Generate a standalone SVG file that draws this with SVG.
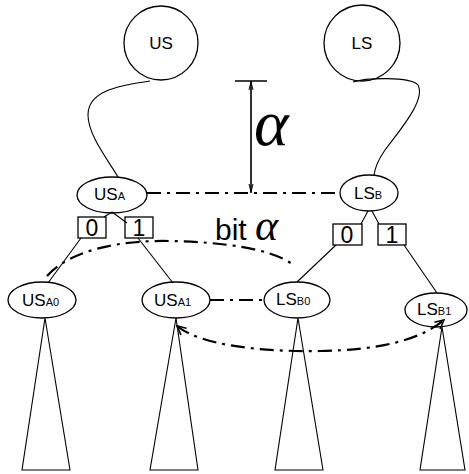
<svg xmlns="http://www.w3.org/2000/svg" width="469" height="474" viewBox="0 0 469 474">
<defs>
<style>
.n{fill:none;stroke:#000;stroke-width:1.3}
.e{fill:none;stroke:#000;stroke-width:1.1}
.dd{fill:none;stroke:#000;stroke-width:2.2;stroke-dasharray:14 6 3 6}
.t{font-family:"Liberation Sans",Arial,sans-serif;font-size:17px;fill:#000}
.s{font-size:11px}
.d{font-family:"Liberation Sans",Arial,sans-serif;font-size:23px;fill:#000;text-anchor:middle}
</style>
<marker id="ah" viewBox="0 0 10 10" refX="9" refY="5" markerWidth="5" markerHeight="5" orient="auto-start-reverse">
<path d="M1,1 L9,5 L1,9" fill="none" stroke="#000" stroke-width="1.5"/>
</marker>
</defs>
<rect width="469" height="474" fill="#fff"/>
<g id="connectors">
<path class="e" d="M150,81 C115,86 88,92 88,115 C88,135 108,160 118,177"/>
<path class="e" d="M353,82 C365,78 410,76 418,85 C426,100 400,130 385,150 C378,160 375,168 374,175"/>
<path class="dd" d="M147,193 L340,193"/>
<path class="dd" d="M210,300 L263,300"/>
<path class="dd" d="M47,276 C70,250 120,240 170,241 C220,242 270,248 292,264"/>
<path class="dd" d="M177,326 C200,345 260,352 320,351 C380,350 420,340 444,320" marker-start="url(#ah)" marker-end="url(#ah)"/>
<path class="e" d="M112,212 L104,217 M112,212 L127,223"/>
<path class="e" d="M368,211 L361,224 M372,211 L379,224"/>
<path class="e" d="M81,238 L48,283 M138,238 L173,283"/>
<path class="e" d="M336,245 L297,282 M404,245 L437,293"/>
<path class="e" d="M45,318 L22,470 L70,470 Z"/>
<path class="e" d="M176,318 L150,470 L198,470 Z"/>
<path class="e" d="M298,318 L275,470 L323,470 Z"/>
<path class="e" d="M442,327 L420,470 L465,470 Z"/>
</g>
<g id="alpha-dim">
<path d="M235,81 L267,81 M251,81 L251,193" fill="none" stroke="#000" stroke-width="1.6"/>
<path d="M251,82 L249,90 M251,82 L253,90 M251,192 L249,184 M251,192 L253,184" fill="none" stroke="#000" stroke-width="1"/>
<text x="254" y="145" style="font-family:'Liberation Serif',serif;font-style:italic;font-size:66px">α</text>
</g>
<g id="US"><circle class="n" cx="161" cy="43" r="37"/><text class="t" x="161" y="49" text-anchor="middle">US</text></g>
<g id="LS"><circle class="n" cx="362" cy="43" r="38"/><text class="t" x="362" y="49" text-anchor="middle">LS</text></g>
<g id="USA"><ellipse class="n" cx="112" cy="195" rx="35" ry="18"/><text class="t" x="94" y="200">US<tspan class="s">A</tspan></text></g>
<g id="LSB"><ellipse class="n" cx="369" cy="193" rx="29" ry="18"/><text class="t" x="354" y="199">LS<tspan class="s">B</tspan></text></g>
<g id="bitA0"><rect class="n" x="78" y="217" width="28" height="21"/><text class="d" x="92" y="236">0</text></g>
<g id="bitA1"><rect class="n" x="125" y="217" width="28" height="21"/><text class="d" x="139" y="236">1</text></g>
<g id="bitB0"><rect class="n" x="333" y="224" width="29" height="21"/><text class="d" x="347" y="243">0</text></g>
<g id="bitB1"><rect class="n" x="378" y="224" width="28" height="21"/><text class="d" x="392" y="243">1</text></g>
<g id="bitlabel"><text x="215" y="240" style="font-family:'Liberation Sans',Arial,sans-serif;font-size:30px">bit <tspan style="font-family:'Liberation Serif',serif;font-style:italic;font-size:44px">α</tspan></text></g>
<g id="USA0"><ellipse class="n" cx="42" cy="300" rx="34" ry="18"/><text class="t" x="22" y="306">US<tspan class="s">A0</tspan></text></g>
<g id="USA1"><ellipse class="n" cx="176" cy="300" rx="34" ry="18"/><text class="t" x="154" y="306">US<tspan class="s">A1</tspan></text></g>
<g id="LSB0"><ellipse class="n" cx="297" cy="300" rx="33" ry="18"/><text class="t" x="276" y="305">LS<tspan class="s">B0</tspan></text></g>
<g id="LSB1"><ellipse class="n" cx="436" cy="310" rx="31" ry="17"/><text class="t" x="417" y="315">LS<tspan class="s">B1</tspan></text></g>
</svg>
